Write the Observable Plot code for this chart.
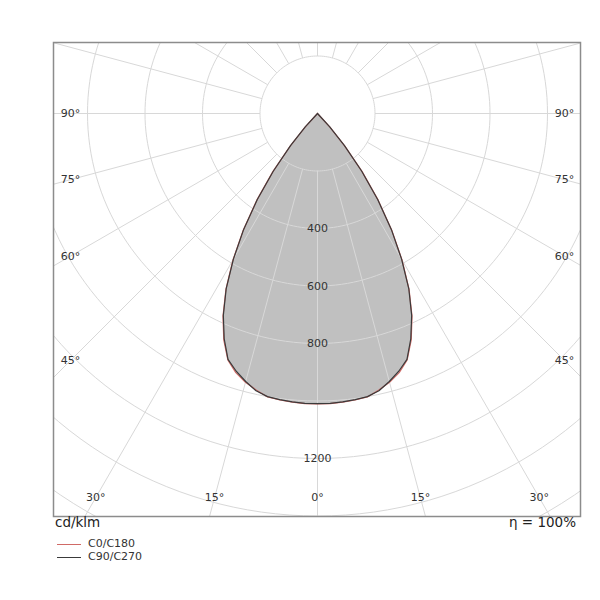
<!DOCTYPE html>
<html>
<head>
<meta charset="utf-8">
<script src="https://cdn.jsdelivr.net/npm/d3@7"></script>
<script src="https://cdn.jsdelivr.net/npm/@observablehq/plot@0.6"></script>
<style>
  html, body { margin: 0; padding: 0; background: #fff; }
  #wrap { position: relative; width: 600px; height: 600px; font-family: "DejaVu Sans", sans-serif; }
  #wrap svg { position: absolute; left: 0; top: 0; }
  .note { position: absolute; color: #222; white-space: nowrap; }
  .leg { position: absolute; font-size: 11px; color: #333; white-space: nowrap; }
  .sw { position: absolute; height: 0; border-top: 1.3px solid; width: 24px; }
</style>
</head>
<body>
<div id="wrap"></div>
<script>
// ---- data (cd/klm) ----
const gamma = [0, 2.5, 5, 7.5, 10, 12.5, 15, 17.5, 20, 22.5, 25, 27.5, 30, 32.5, 35, 37.5, 40, 42.5, 45];
const c0c180 = [1010, 1010, 1008, 1005, 1001, 985, 968, 945, 912, 852, 778, 690, 588, 480, 368, 255, 148, 64, 0];
const c90c270 = [1009, 1009, 1007, 1004, 1000, 988, 965, 940, 910, 848, 775, 688, 585, 478, 365, 252, 145, 62, 0];
const ringValues = [200, 400, 600, 800, 1000, 1200, 1400, 1600];
const ringLabels = [400, 600, 800, 1200];
const rayAngles = d3.range(0, 360, 15);
const angleLabels = [0, 15, 30, 45, 60, 75, 90];
const seriesNames = ["C0/C180", "C90/C270"];
const seriesColors = ["#d06a66", "#3a3a3a"];

// ---- layout ----
const W = 600, H = 520;
const mL = 53, mR = 20, mT = 42, mB = 4;
const cx = 317, cy = 113;        // pole pixel position
const k = 57.5 / 200;            // px per cd/klm
const xDom = [-(cx - mL) / k, (W - mR - cx) / k];
const yDom = [-(cy - mT) / k, (H - mB - cy) / k];
const rad = d => d * Math.PI / 180;

function polygon(vals, name) {
  const pts = [];
  for (let i = gamma.length - 1; i >= 0; i--) pts.push({s: name, x: -vals[i] * Math.sin(rad(gamma[i])), y: vals[i] * Math.cos(rad(gamma[i]))});
  for (let i = 1; i < gamma.length; i++) pts.push({s: name, x: vals[i] * Math.sin(rad(gamma[i])), y: vals[i] * Math.cos(rad(gamma[i]))});
  return pts;
}
const polyC0 = polygon(c0c180, seriesNames[0]);
const polyC90 = polygon(c90c270, seriesNames[1]);

const ringPts = ringValues.flatMap(r => d3.range(0, 361, 2).map(a => ({r, x: r * Math.sin(rad(a)), y: r * Math.cos(rad(a))})));
const rays = rayAngles.map(a => ({a, x1: 200 * Math.sin(rad(a)), y1: 200 * Math.cos(rad(a)), x2: 3000 * Math.sin(rad(a)), y2: 3000 * Math.cos(rad(a))}));

// angle labels placed along their rays, inside the frame
const insetX = (cx - 70) / k, insetY = (497 - cy) / k;
const angLab = angleLabels.flatMap(a => {
  const sides = a === 0 ? [1] : [-1, 1];
  return sides.map(s => {
    if (a <= 30) return {t: a + "°", x: s * insetY * Math.tan(rad(a)), y: insetY};
    return {t: a + "°", x: s * insetX, y: insetX / Math.tan(rad(a))};
  });
});

const plot = Plot.plot({
  width: W, height: H,
  marginLeft: mL, marginRight: mR, marginTop: mT, marginBottom: mB,
  x: {domain: xDom, axis: null},
  y: {domain: yDom, reverse: true, axis: null},
  style: {fontFamily: "DejaVu Sans, sans-serif", background: "white"},
  marks: [
    Plot.line(polyC90, {x: "x", y: "y", fill: "#c0c0c0", stroke: "none", clip: true}),
    Plot.line(ringPts, {x: "x", y: "y", z: "r", stroke: "#d8d8d8", strokeWidth: 1, clip: true}),
    Plot.link(rays, {x1: "x1", y1: "y1", x2: "x2", y2: "y2", stroke: "#d8d8d8", strokeWidth: 1, clip: true}),
    Plot.line(polyC0, {x: "x", y: "y", stroke: seriesColors[0], strokeWidth: 1.2, clip: true}),
    Plot.line(polyC90, {x: "x", y: "y", stroke: seriesColors[1], strokeWidth: 1.2, clip: true}),
    Plot.text(ringLabels, {x: 0, y: d => d, text: d => String(d), fontSize: 11, fill: "#333"}),
    Plot.text(angLab, {x: "x", y: "y", text: "t", fontSize: 11, fill: "#333"}),
    Plot.frame({stroke: "#8c8c8c", strokeWidth: 1.5})
  ]
});

const wrap = document.getElementById("wrap");
wrap.appendChild(plot);

function addDiv(cls, styles, text) {
  const d = document.createElement("div");
  d.className = cls;
  Object.assign(d.style, styles);
  if (text != null) d.textContent = text;
  wrap.appendChild(d);
  return d;
}
addDiv("note", {left: "55px", top: "514px", fontSize: "13.5px"}, "cd/klm");
addDiv("note", {right: "24px", top: "514px", fontSize: "13.5px"}, "η = 100%");
seriesNames.forEach((name, i) => {
  addDiv("sw", {left: "57px", top: (544 + i * 13) + "px", borderTopColor: seriesColors[i]});
  addDiv("leg", {left: "88px", top: (537 + i * 13) + "px"}, name);
});
</script>
</body>
</html>
